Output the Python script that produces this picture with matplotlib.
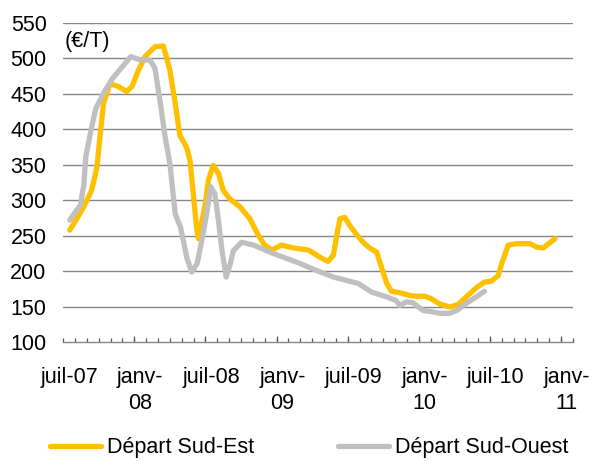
import numpy as np
import matplotlib
matplotlib.use("Agg")
import matplotlib.pyplot as plt
from matplotlib.ticker import FixedLocator

plt.rcParams['font.family'] = ['Liberation Sans', 'DejaVu Sans']

# mois depuis juil-07 (0 = juil-07), valeurs en €/T
sud_est_x = [0.05, 0.5, 1.2, 1.9, 2.35, 2.6, 2.9, 3.45, 4.15, 4.85, 5.3, 5.85, 6.4, 7.25,
             7.95, 8.5, 8.95, 9.35, 9.9, 10.2, 10.5, 10.75, 10.9, 11.45, 11.75, 12.15,
             12.6, 13.0, 13.55, 14.4, 15.25, 15.95, 16.5, 17.1, 17.9, 18.9, 20.2, 21.15,
             21.85, 22.3, 22.55, 22.85, 23.25, 23.7, 24.1, 24.8, 25.35, 25.95, 26.35,
             26.8, 27.2, 27.9, 28.75, 29.3, 30.0, 30.5, 31.3, 32.1, 32.8, 33.5, 34.35,
             35.05, 35.6, 36.2, 36.5, 37.05, 37.75, 38.9, 39.45, 40.0, 41.0]
sud_est_y = [258, 270, 290, 314, 347, 389, 436, 464, 460, 453, 460, 483, 502, 516,
             517, 483, 436, 391, 375, 356, 305, 262, 246, 291, 328, 349,
             338, 314, 302, 291, 274, 251, 237, 230, 237, 233, 230, 220,
             214, 223, 248, 274, 276, 264, 255, 241, 233, 227, 206,
             183, 172, 170, 166, 165, 165, 162, 154, 150, 153, 164, 177,
             185, 186, 194, 211, 237, 239, 239, 234, 233, 246]

sud_ouest_x = [0.05, 0.5, 0.95, 1.25, 1.4, 1.85, 2.25, 2.95, 3.65, 4.5, 5.2, 5.9, 6.85,
               7.25, 7.7, 8.1, 8.5, 8.95, 9.4, 9.95, 10.35, 10.8, 11.2, 11.6, 11.95,
               12.3, 12.6, 12.9, 13.25, 13.6, 13.85, 14.55, 15.55, 17.25, 19.5, 20.9,
               22.3, 24.4, 25.5, 26.8, 27.6, 27.9, 28.45, 29.0, 29.85, 30.7, 31.3,
               32.1, 32.7, 33.5, 34.35, 35.05]
sud_ouest_y = [272, 283, 293, 323, 361, 399, 429, 452, 471, 488, 502, 498, 497,
               485, 436, 389, 352, 281, 262, 218, 199, 211, 244, 281, 319,
               309, 271, 229, 192, 211, 229, 241, 237, 225, 211, 201,
               192, 183, 171, 164, 159, 152, 157, 156, 145, 143, 141,
               141, 145, 155, 164, 172]

n_mois = 43
tick_pos = [0, 6, 12, 18, 24, 30, 36, 42]
tick_labels = ['juil-07', 'janv-\n08', 'juil-08', 'janv-\n09', 'juil-09',
               'janv-\n10', 'juil-10', 'janv-\n11']

jaune = '#FFC000'
gris = '#C0C0C0'
fs = 15.5

fig = plt.figure(figsize=(5.93, 4.63), dpi=100)
ax = fig.add_axes([0.1066, 0.2603, 0.8594, 0.6911])

l1, = ax.plot(sud_est_x, sud_est_y, color=jaune, lw=3.8, solid_joinstyle='round',
              solid_capstyle='round', zorder=3)
l2, = ax.plot(sud_ouest_x, sud_ouest_y, color=gris, lw=3.8, solid_joinstyle='round',
              solid_capstyle='round', zorder=4)

ax.set_xlim(-0.5, n_mois - 0.5)
ax.set_ylim(100, 550)
ax.set_yticks(range(100, 551, 50))
for v in range(150, 551, 50):
    ax.axhline(v, color='#868686', lw=1.0, zorder=1)

for s in ['top', 'right', 'left']:
    ax.spines[s].set_visible(False)
ax.spines['bottom'].set_color('#868686')
ax.spines['bottom'].set_linewidth(1.0)

ax.tick_params(axis='y', length=0, pad=12, labelsize=fs)
ax.set_xticks(tick_pos)
ax.set_xticklabels(tick_labels, linespacing=1.3)
ax.tick_params(axis='x', which='major', length=0, pad=18, labelsize=fs)
ax.xaxis.set_minor_locator(FixedLocator(np.arange(-0.5, n_mois, 1.0)))
ax.tick_params(axis='x', which='minor', direction='in', length=2.6, width=0.9,
               color='#555555')

sec = ax.secondary_xaxis('bottom')
sec.set_xticks(np.arange(5.5, n_mois - 1, 6))
sec.tick_params(direction='in', length=4.5, width=0.9, color='#555555', labelbottom=False)
sec.spines['bottom'].set_visible(False)

ax.text(-0.35, 523, '(€/T)', fontsize=fs, va='center', ha='left')

fig.legend([l1, l2], ['Départ Sud-Est', 'Départ Sud-Ouest'], loc='center left',
           bbox_to_anchor=(50 / 593, 1 - 448 / 463), ncol=2, frameon=False,
           fontsize=fs, handlelength=2.35, handletextpad=0.3, columnspacing=3.9,
           borderpad=0, borderaxespad=0)

fig.savefig('out.png', dpi=100)
